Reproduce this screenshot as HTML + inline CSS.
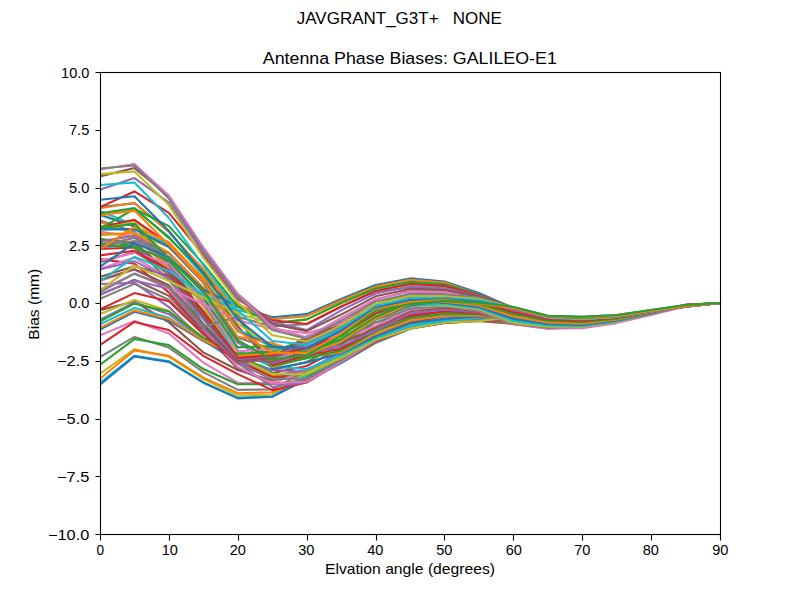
<!DOCTYPE html>
<html lang="en"><head><meta charset="utf-8"><title>JAVGRANT_G3T+ NONE - Antenna Phase Biases: GALILEO-E1</title>
<style>html,body{margin:0;padding:0;background:#fff;}body{width:800px;height:600px;overflow:hidden;}svg{display:block;}text{font-family:"Liberation Sans",sans-serif;fill:#000;}.ln{fill:none;stroke-width:2.083;stroke-linejoin:round;stroke-linecap:square;}</style></head><body>
<svg width="800" height="600" viewBox="0 0 800 600">
<rect x="0" y="0" width="800" height="600" fill="#ffffff"/>
<defs><clipPath id="ax"><rect x="100" y="72" width="620" height="462"/></clipPath></defs>
<g class="ln" clip-path="url(#ax)">
<polyline stroke="#1f77b4" points="100.00,228.39 134.44,223.77 168.89,258.42 203.33,290.99 237.78,340.42 272.22,359.60 306.67,355.21 341.11,335.80 375.56,310.85 410.00,304.16 444.44,300.69 478.89,302.77 513.33,306.93 547.78,315.71 582.22,316.86 616.67,315.01 651.11,309.93 685.56,305.08 720.00,303.00"/>
<polyline stroke="#ff7f0e" points="100.00,241.32 134.44,235.83 168.89,265.65 203.33,300.00 237.78,351.51 272.22,364.50 306.67,358.25 341.11,340.87 375.56,318.68 410.00,310.56 444.44,306.95 478.89,307.29 513.33,310.26 547.78,316.36 582.22,317.19 616.67,315.48 651.11,310.83 685.56,306.37 720.00,303.00"/>
<polyline stroke="#2ca02c" points="100.00,243.17 134.44,243.29 168.89,271.98 203.33,313.43 237.78,357.28 272.22,369.99 306.67,361.99 341.11,344.39 375.56,322.46 410.00,313.72 444.44,309.26 478.89,309.32 513.33,311.95 547.78,316.84 582.22,317.40 616.67,315.56 651.11,310.87 685.56,306.41 720.00,303.00"/>
<polyline stroke="#d62728" points="100.00,248.95 134.44,247.56 168.89,274.85 203.33,302.08 237.78,359.60 272.22,373.06 306.67,366.03 341.11,348.11 375.56,326.42 410.00,316.82 444.44,311.61 478.89,311.40 513.33,313.94 547.78,317.67 582.22,317.97 616.67,315.89 651.11,311.02 685.56,306.41 720.00,303.00"/>
<polyline stroke="#9467bd" points="100.00,247.10 134.44,245.25 168.89,274.54 203.33,315.73 237.78,360.75 272.22,375.59 306.67,370.15 341.11,351.86 375.56,330.38 410.00,319.74 444.44,313.96 478.89,313.44 513.33,316.06 547.78,318.84 582.22,318.91 616.67,316.47 651.11,311.29 685.56,306.35 720.00,303.00"/>
<polyline stroke="#8c564b" points="100.00,239.12 134.44,242.45 168.89,271.83 203.33,313.30 237.78,361.21 272.22,374.61 306.67,374.05 341.11,355.42 375.56,334.11 410.00,322.40 444.44,316.25 478.89,315.37 513.33,318.16 547.78,320.30 582.22,320.17 616.67,317.26 651.11,311.67 685.56,306.22 720.00,303.00"/>
<polyline stroke="#e377c2" points="100.00,231.62 134.44,236.92 168.89,267.84 203.33,304.39 237.78,361.21 272.22,377.03 306.67,377.40 341.11,358.53 375.56,337.38 410.00,324.68 444.44,318.35 478.89,317.11 513.33,320.06 547.78,321.95 582.22,321.62 616.67,318.19 651.11,312.10 685.56,306.03 720.00,303.00"/>
<polyline stroke="#7f7f7f" points="100.00,220.53 134.44,231.62 168.89,263.86 203.33,302.04 237.78,360.75 272.22,376.31 306.67,379.88 341.11,360.96 375.56,339.98 410.00,326.49 444.44,320.17 478.89,318.58 513.33,321.63 547.78,323.65 582.22,323.15 616.67,319.17 651.11,312.56 685.56,305.79 720.00,303.00"/>
<polyline stroke="#bcbd22" points="100.00,214.19 134.44,226.75 168.89,261.18 203.33,306.93 237.78,358.44 272.22,374.61 306.67,381.26 341.11,362.52 375.56,341.76 410.00,327.78 444.44,321.58 478.89,319.73 513.33,322.79 547.78,325.25 582.22,324.59 616.67,320.09 651.11,312.99 685.56,305.53 720.00,303.00"/>
<polyline stroke="#17becf" points="100.00,211.06 134.44,224.92 168.89,260.90 203.33,297.60 237.78,358.44 272.22,373.77 306.67,381.45 341.11,363.14 375.56,342.68 410.00,328.53 444.44,322.51 478.89,320.51 513.33,323.50 547.78,326.63 582.22,325.80 616.67,320.85 651.11,313.34 685.56,305.27 720.00,303.00"/>
<polyline stroke="#1f77b4" points="100.00,214.99 134.44,226.31 168.89,263.80 203.33,313.39 237.78,359.13 272.22,372.78 306.67,380.54 341.11,362.88 375.56,342.80 410.00,328.77 444.44,322.94 478.89,320.93 513.33,323.80 547.78,327.66 582.22,326.65 616.67,321.37 651.11,313.58 685.56,305.06 720.00,303.00"/>
<polyline stroke="#ff7f0e" points="100.00,222.15 134.44,233.70 168.89,270.23 203.33,311.59 237.78,358.90 272.22,374.61 306.67,378.75 341.11,361.91 375.56,342.27 410.00,328.58 444.44,322.90 478.89,321.00 513.33,323.77 547.78,328.25 582.22,327.07 616.67,321.60 651.11,313.68 685.56,304.90 720.00,303.00"/>
<polyline stroke="#2ca02c" points="100.00,238.78 134.44,247.07 168.89,280.03 203.33,323.79 237.78,359.60 272.22,373.11 306.67,376.45 341.11,360.47 375.56,341.31 410.00,328.09 444.44,322.46 478.89,320.79 513.33,323.54 547.78,328.36 582.22,327.02 616.67,321.54 651.11,313.65 685.56,304.84 720.00,303.00"/>
<polyline stroke="#d62728" points="100.00,259.11 134.44,263.73 168.89,292.63 203.33,331.14 237.78,360.75 272.22,376.92 306.67,374.08 341.11,358.88 375.56,340.20 410.00,327.43 444.44,321.75 478.89,320.39 513.33,323.22 547.78,327.98 582.22,326.54 616.67,321.21 651.11,313.50 685.56,304.87 720.00,303.00"/>
<polyline stroke="#9467bd" points="100.00,284.06 134.44,282.67 168.89,307.04 203.33,339.96 237.78,362.60 272.22,369.76 306.67,372.07 341.11,357.44 375.56,339.18 410.00,326.75 444.44,320.94 478.89,319.91 513.33,322.93 547.78,327.15 582.22,325.69 616.67,320.66 651.11,313.24 685.56,304.99 720.00,303.00"/>
<polyline stroke="#8c564b" points="100.00,310.16 134.44,301.50 168.89,322.40 203.33,352.43 237.78,369.99 272.22,380.60 306.67,370.78 341.11,356.41 375.56,338.45 410.00,326.18 444.44,320.18 478.89,319.44 513.33,322.74 547.78,325.97 582.22,324.57 616.67,319.96 651.11,312.92 685.56,305.19 720.00,303.00"/>
<polyline stroke="#e377c2" points="100.00,335.34 134.44,321.02 168.89,333.49 203.33,362.60 237.78,382.69 272.22,383.16 306.67,370.45 341.11,355.96 375.56,338.14 410.00,325.81 444.44,319.62 478.89,319.08 513.33,322.67 547.78,324.52 582.22,323.30 616.67,319.19 651.11,312.58 685.56,305.43 720.00,303.00"/>
<polyline stroke="#7f7f7f" points="100.00,357.05 134.44,336.96 168.89,347.58 203.33,372.07 237.78,389.86 272.22,389.39 306.67,371.14 341.11,356.12 375.56,338.28 410.00,325.71 444.44,319.36 478.89,318.90 513.33,322.69 547.78,322.94 582.22,322.00 616.67,318.44 651.11,312.24 685.56,305.69 720.00,303.00"/>
<polyline stroke="#bcbd22" points="100.00,373.69 134.44,349.20 168.89,356.82 203.33,378.95 237.78,395.63 272.22,394.48 306.67,372.75 341.11,356.84 375.56,338.82 410.00,325.88 444.44,319.43 478.89,318.93 513.33,322.75 547.78,321.35 582.22,320.77 616.67,317.75 651.11,311.95 685.56,305.93 720.00,303.00"/>
<polyline stroke="#17becf" points="100.00,382.93 134.44,355.67 168.89,361.21 203.33,382.40 237.78,397.71 272.22,396.56 306.67,375.00 341.11,357.95 375.56,339.60 410.00,326.27 444.44,319.82 478.89,319.15 513.33,322.74 547.78,319.85 582.22,319.69 616.67,317.17 651.11,311.70 685.56,306.12 720.00,303.00"/>
<polyline stroke="#1f77b4" points="100.00,384.54 134.44,356.36 168.89,361.90 203.33,382.69 237.78,398.40 272.22,396.79 306.67,379.23 341.11,359.23 375.56,340.46 410.00,326.81 444.44,320.45 478.89,319.52 513.33,322.58 547.78,318.54 582.22,318.80 616.67,316.71 651.11,311.51 685.56,306.24 720.00,303.00"/>
<polyline stroke="#ff7f0e" points="100.00,378.77 134.44,350.36 168.89,355.90 203.33,377.61 237.78,393.32 272.22,392.17 306.67,379.85 341.11,360.42 375.56,341.21 410.00,327.40 444.44,321.21 478.89,319.96 513.33,322.20 547.78,317.49 582.22,318.12 616.67,316.37 651.11,311.37 685.56,306.28 720.00,303.00"/>
<polyline stroke="#2ca02c" points="100.00,364.68 134.44,339.04 168.89,345.04 203.33,369.07 237.78,384.31 272.22,384.31 306.67,381.62 341.11,361.32 375.56,341.68 410.00,327.92 444.44,321.94 478.89,320.39 513.33,321.56 547.78,316.77 582.22,317.65 616.67,316.13 651.11,311.27 685.56,306.25 720.00,303.00"/>
<polyline stroke="#d62728" points="100.00,345.04 134.44,321.94 168.89,330.03 203.33,355.90 237.78,374.15 272.22,390.14 306.67,382.50 341.11,361.75 375.56,341.78 410.00,328.28 444.44,322.50 478.89,320.70 513.33,320.69 547.78,316.40 582.22,317.37 616.67,315.97 651.11,311.20 685.56,306.16 720.00,303.00"/>
<polyline stroke="#9467bd" points="100.00,319.63 134.44,302.31 168.89,314.15 203.33,338.86 237.78,362.85 272.22,387.01 306.67,382.30 341.11,361.65 375.56,341.47 410.00,328.38 444.44,322.77 478.89,320.81 513.33,319.68 547.78,316.40 582.22,317.27 616.67,315.88 651.11,311.14 685.56,306.03 720.00,303.00"/>
<polyline stroke="#8c564b" points="100.00,294.92 134.44,279.69 168.89,295.89 203.33,332.31 237.78,368.83 272.22,383.47 306.67,381.00 341.11,361.04 375.56,340.80 410.00,328.17 444.44,322.66 478.89,320.66 513.33,318.65 547.78,316.75 582.22,317.33 616.67,315.85 651.11,311.11 685.56,305.90 720.00,303.00"/>
<polyline stroke="#e377c2" points="100.00,268.89 134.44,257.55 168.89,277.61 203.33,329.10 237.78,366.99 272.22,383.62 306.67,381.54 341.11,361.90 375.56,339.86 410.00,327.63 444.44,322.14 478.89,320.23 513.33,317.76 547.78,317.44 582.22,317.56 616.67,315.89 651.11,311.09 685.56,305.77 720.00,303.00"/>
<polyline stroke="#7f7f7f" points="100.00,245.25 134.44,237.86 168.89,260.79 203.33,326.10 237.78,363.52 272.22,379.23 306.67,378.54 341.11,360.29 375.56,338.75 410.00,326.75 444.44,321.22 478.89,319.52 513.33,317.15 547.78,318.43 582.22,317.96 616.67,316.02 651.11,311.10 685.56,305.68 720.00,303.00"/>
<polyline stroke="#bcbd22" points="100.00,227.93 134.44,221.23 168.89,246.80 203.33,282.45 237.78,356.82 272.22,374.15 306.67,374.15 341.11,357.98 375.56,339.96 410.00,328.41 444.44,322.40 478.89,321.25 513.33,316.95 547.78,319.66 582.22,318.55 616.67,316.27 651.11,311.17 685.56,305.62 720.00,303.00"/>
<polyline stroke="#17becf" points="100.00,213.67 134.44,209.18 168.89,236.74 203.33,275.38 237.78,350.59 272.22,366.99 306.67,369.07 341.11,354.98 375.56,338.11 410.00,326.10 444.44,321.02 478.89,317.51 513.33,317.23 547.78,321.07 582.22,319.32 616.67,316.64 651.11,311.29 685.56,305.61 720.00,303.00"/>
<polyline stroke="#1f77b4" points="100.00,207.09 134.44,203.29 168.89,231.40 203.33,271.82 237.78,316.96 272.22,368.98 306.67,362.37 341.11,353.36 375.56,336.26 410.00,323.33 444.44,318.71 478.89,316.35 513.33,317.97 547.78,322.58 582.22,320.29 616.67,317.17 651.11,311.49 685.56,305.62 720.00,303.00"/>
<polyline stroke="#ff7f0e" points="100.00,208.29 134.44,202.75 168.89,232.31 203.33,269.04 237.78,313.68 272.22,367.36 306.67,357.52 341.11,352.30 375.56,333.95 410.00,320.56 444.44,315.71 478.89,315.71 513.33,319.10 547.78,324.08 582.22,321.41 616.67,317.84 651.11,311.77 685.56,305.66 720.00,303.00"/>
<polyline stroke="#2ca02c" points="100.00,213.37 134.44,208.06 168.89,238.09 203.33,272.05 237.78,317.22 272.22,365.95 306.67,358.34 341.11,350.52 375.56,331.64 410.00,318.01 444.44,313.86 478.89,314.11 513.33,320.46 547.78,325.48 582.22,322.63 616.67,318.61 651.11,312.11 685.56,305.69 720.00,303.00"/>
<polyline stroke="#d62728" points="100.00,227.00 134.44,219.84 168.89,243.86 203.33,278.75 237.78,326.19 272.22,364.58 306.67,355.67 341.11,348.50 375.56,330.03 410.00,315.24 444.44,311.32 478.89,313.13 513.33,321.86 547.78,326.66 582.22,323.86 616.67,319.43 651.11,312.49 685.56,305.71 720.00,303.00"/>
<polyline stroke="#9467bd" points="100.00,241.78 134.44,235.55 168.89,257.12 203.33,293.07 237.78,342.71 272.22,363.09 306.67,353.25 341.11,346.11 375.56,330.28 410.00,313.39 444.44,309.47 478.89,312.27 513.33,323.06 547.78,327.53 582.22,325.01 616.67,320.24 651.11,312.89 685.56,305.70 720.00,303.00"/>
<polyline stroke="#8c564b" points="100.00,262.11 134.44,252.10 168.89,271.44 203.33,312.94 237.78,358.83 272.22,361.39 306.67,350.95 341.11,343.26 375.56,328.17 410.00,311.32 444.44,307.62 478.89,311.50 513.33,323.87 547.78,328.01 582.22,325.95 616.67,320.93 651.11,313.25 685.56,305.66 720.00,303.00"/>
<polyline stroke="#e377c2" points="100.00,280.90 134.44,269.51 168.89,286.18 203.33,326.11 237.78,361.48 272.22,359.46 306.67,348.68 341.11,339.97 375.56,325.60 410.00,309.70 444.44,306.23 478.89,310.76 513.33,324.48 547.78,328.64 582.22,328.18 616.67,323.10 651.11,315.01 685.56,306.47 720.00,303.00"/>
<polyline stroke="#7f7f7f" points="100.00,298.84 134.44,283.83 168.89,299.76 203.33,333.70 237.78,362.39 272.22,358.89 306.67,346.41 341.11,336.34 375.56,322.64 410.00,308.41 444.44,306.55 478.89,310.00 513.33,323.70 547.78,327.63 582.22,326.82 616.67,321.68 651.11,313.71 685.56,305.52 720.00,303.00"/>
<polyline stroke="#bcbd22" points="100.00,314.09 134.44,300.00 168.89,310.70 203.33,337.62 237.78,354.74 272.22,355.22 306.67,344.17 341.11,332.59 375.56,319.46 410.00,306.23 444.44,305.27 478.89,309.14 513.33,322.62 547.78,326.77 582.22,326.62 616.67,321.62 651.11,313.74 685.56,305.45 720.00,303.00"/>
<polyline stroke="#17becf" points="100.00,324.25 134.44,307.85 168.89,317.82 203.33,340.17 237.78,357.98 272.22,355.68 306.67,342.11 341.11,329.03 375.56,316.29 410.00,306.00 444.44,304.01 478.89,308.12 513.33,320.95 547.78,325.56 582.22,325.99 616.67,321.25 651.11,313.63 685.56,305.41 720.00,303.00"/>
<polyline stroke="#1f77b4" points="100.00,329.56 134.44,311.78 168.89,320.56 203.33,341.12 237.78,358.90 272.22,356.45 306.67,340.42 341.11,326.02 375.56,313.44 410.00,304.04 444.44,302.81 478.89,306.92 513.33,318.83 547.78,324.07 582.22,324.96 616.67,320.60 651.11,313.38 685.56,305.41 720.00,303.00"/>
<polyline stroke="#ff7f0e" points="100.00,327.95 134.44,310.39 168.89,318.94 203.33,340.42 237.78,356.13 272.22,353.89 306.67,339.35 341.11,323.90 375.56,311.19 410.00,305.77 444.44,301.73 478.89,305.52 513.33,316.47 547.78,322.45 582.22,323.65 616.67,319.74 651.11,313.02 685.56,305.47 720.00,303.00"/>
<polyline stroke="#2ca02c" points="100.00,321.25 134.44,303.69 168.89,311.54 203.33,337.92 237.78,353.82 272.22,351.65 306.67,339.12 341.11,322.97 375.56,309.79 410.00,303.00 444.44,300.83 478.89,303.96 513.33,314.10 547.78,320.82 582.22,322.19 616.67,318.77 651.11,312.59 685.56,305.58 720.00,303.00"/>
<polyline stroke="#d62728" points="100.00,309.47 134.44,293.07 168.89,301.33 203.33,334.26 237.78,362.44 272.22,358.93 306.67,339.87 341.11,323.39 375.56,309.38 410.00,303.11 444.44,300.18 478.89,302.29 513.33,311.91 547.78,319.32 582.22,320.72 616.67,317.78 651.11,312.14 685.56,305.74 720.00,303.00"/>
<polyline stroke="#9467bd" points="100.00,294.45 134.44,280.59 168.89,288.86 203.33,328.46 237.78,361.91 272.22,358.56 306.67,341.59 341.11,325.13 375.56,309.98 410.00,302.31 444.44,299.82 478.89,300.59 513.33,310.09 547.78,318.05 582.22,319.39 616.67,316.89 651.11,311.71 685.56,305.94 720.00,303.00"/>
<polyline stroke="#8c564b" points="100.00,276.90 134.44,266.27 168.89,275.68 203.33,316.76 237.78,359.75 272.22,357.05 306.67,344.16 341.11,327.98 375.56,311.46 410.00,304.26 444.44,299.75 478.89,298.97 513.33,308.74 547.78,317.10 582.22,318.32 616.67,316.19 651.11,311.36 685.56,306.16 720.00,303.00"/>
<polyline stroke="#e377c2" points="100.00,260.73 134.44,252.87 168.89,263.40 203.33,301.35 237.78,351.24 272.22,349.15 306.67,347.27 341.11,331.58 375.56,311.55 410.00,305.05 444.44,299.94 478.89,297.50 513.33,307.89 547.78,316.49 582.22,317.60 616.67,315.72 651.11,311.11 685.56,306.36 720.00,303.00"/>
<polyline stroke="#7f7f7f" points="100.00,245.94 134.44,241.00 168.89,253.52 203.33,288.49 237.78,337.74 272.22,348.89 306.67,350.50 341.11,335.39 375.56,313.39 410.00,305.73 444.44,300.30 478.89,296.26 513.33,307.50 547.78,316.22 582.22,317.23 616.67,315.51 651.11,310.98 685.56,306.53 720.00,303.00"/>
<polyline stroke="#bcbd22" points="100.00,235.55 134.44,232.93 168.89,247.15 203.33,276.67 237.78,323.28 272.22,348.31 306.67,353.34 341.11,338.84 375.56,315.94 410.00,306.14 444.44,300.69 478.89,295.30 513.33,307.49 547.78,316.23 582.22,317.21 616.67,315.55 651.11,310.97 685.56,306.64 720.00,303.00"/>
<polyline stroke="#17becf" points="100.00,229.54 134.44,229.14 168.89,244.93 203.33,280.84 237.78,329.13 272.22,347.15 306.67,355.28 341.11,341.33 375.56,319.40 410.00,306.09 444.44,300.97 478.89,294.63 513.33,307.72 547.78,316.45 582.22,317.46 616.67,315.77 651.11,311.05 685.56,306.70 720.00,303.00"/>
<polyline stroke="#1f77b4" points="100.00,229.31 134.44,229.08 168.89,246.91 203.33,282.55 237.78,331.34 272.22,345.36 306.67,355.89 341.11,342.40 375.56,319.85 410.00,305.46 444.44,300.97 478.89,294.24 513.33,308.05 547.78,316.78 582.22,317.87 616.67,316.11 651.11,311.18 685.56,306.69 720.00,303.00"/>
<polyline stroke="#ff7f0e" points="100.00,233.93 134.44,233.24 168.89,252.54 203.33,287.61 237.78,336.79 272.22,342.96 306.67,354.89 341.11,341.72 375.56,319.06 410.00,304.17 444.44,300.56 478.89,294.08 513.33,308.37 547.78,317.13 582.22,318.33 616.67,316.47 651.11,311.34 685.56,306.64 720.00,303.00"/>
<polyline stroke="#2ca02c" points="100.00,245.25 134.44,246.64 168.89,260.71 203.33,297.32 237.78,347.40 272.22,346.19 306.67,352.20 341.11,339.21 375.56,316.96 410.00,302.24 444.44,299.66 478.89,294.10 513.33,308.57 547.78,317.41 582.22,318.74 616.67,316.78 651.11,311.48 685.56,306.55 720.00,303.00"/>
<polyline stroke="#d62728" points="100.00,255.41 134.44,250.79 168.89,269.98 203.33,311.21 237.78,357.70 272.22,355.42 306.67,347.96 341.11,335.00 375.56,313.64 410.00,299.73 444.44,298.23 478.89,294.23 513.33,308.63 547.78,317.57 582.22,319.00 616.67,316.97 651.11,311.57 685.56,306.45 720.00,303.00"/>
<polyline stroke="#9467bd" points="100.00,269.50 134.44,261.19 168.89,278.67 203.33,319.45 237.78,360.25 272.22,357.40 306.67,342.52 341.11,329.47 375.56,309.37 410.00,296.80 444.44,296.31 478.89,294.39 513.33,308.54 547.78,317.59 582.22,319.07 616.67,317.01 651.11,311.60 685.56,306.36 720.00,303.00"/>
<polyline stroke="#8c564b" points="100.00,279.90 134.44,269.27 168.89,285.21 203.33,325.26 237.78,361.32 272.22,358.15 306.67,336.41 341.11,323.15 375.56,304.54 410.00,293.65 444.44,294.04 478.89,294.53 513.33,308.36 547.78,317.47 582.22,318.95 616.67,316.91 651.11,311.57 685.56,306.30 720.00,303.00"/>
<polyline stroke="#e377c2" points="100.00,289.83 134.44,273.58 168.89,288.25 203.33,304.39 237.78,320.32 272.22,328.97 306.67,333.26 341.11,323.56 375.56,299.62 410.00,290.51 444.44,291.58 478.89,294.63 513.33,308.14 547.78,317.26 582.22,318.68 616.67,316.69 651.11,311.48 685.56,306.28 720.00,303.00"/>
<polyline stroke="#7f7f7f" points="100.00,292.14 134.44,273.66 168.89,286.96 203.33,326.79 237.78,316.86 272.22,326.44 306.67,324.25 341.11,306.70 375.56,291.22 410.00,287.61 444.44,289.15 478.89,294.66 513.33,307.96 547.78,317.01 582.22,318.33 616.67,316.41 651.11,311.36 685.56,306.31 720.00,303.00"/>
<polyline stroke="#bcbd22" points="100.00,290.06 134.44,265.58 168.89,281.05 203.33,297.46 237.78,313.39 272.22,323.56 306.67,319.63 341.11,303.23 375.56,288.68 410.00,285.17 444.44,286.96 478.89,294.64 513.33,307.88 547.78,316.78 582.22,317.97 616.67,316.13 651.11,311.24 685.56,306.36 720.00,303.00"/>
<polyline stroke="#17becf" points="100.00,281.52 134.44,256.80 168.89,270.91 203.33,294.92 237.78,309.93 272.22,319.17 306.67,316.17 341.11,300.69 375.56,286.83 410.00,283.35 444.44,285.23 478.89,294.60 513.33,307.91 547.78,316.62 582.22,317.70 616.67,315.92 651.11,311.15 685.56,306.44 720.00,303.00"/>
<polyline stroke="#1f77b4" points="100.00,266.73 134.44,242.94 168.89,257.50 203.33,289.60 237.78,306.23 272.22,317.32 306.67,314.09 341.11,299.07 375.56,284.98 410.00,278.40 444.44,281.52 478.89,293.07 513.33,308.07 547.78,316.58 582.22,317.56 616.67,315.82 651.11,311.10 685.56,306.52 720.00,303.00"/>
<polyline stroke="#ff7f0e" points="100.00,249.18 134.44,226.77 168.89,242.25 203.33,279.05 237.78,304.39 272.22,318.94 306.67,315.94 341.11,300.46 375.56,286.60 410.00,279.67 444.44,282.44 478.89,294.61 513.33,308.30 547.78,316.66 582.22,317.60 616.67,315.85 651.11,311.11 685.56,306.59 720.00,303.00"/>
<polyline stroke="#2ca02c" points="100.00,228.85 134.44,208.75 168.89,226.08 203.33,263.96 237.78,306.70 272.22,323.33 306.67,319.40 341.11,303.00 375.56,288.45 410.00,281.75 444.44,284.06 478.89,294.74 513.33,308.53 547.78,316.83 582.22,317.80 616.67,316.00 651.11,311.17 685.56,306.63 720.00,303.00"/>
<polyline stroke="#d62728" points="100.00,207.13 134.44,191.43 168.89,212.91 203.33,254.95 237.78,299.30 272.22,320.32 306.67,324.02 341.11,306.47 375.56,290.99 410.00,284.06 444.44,285.91 478.89,295.01 513.33,308.71 547.78,317.07 582.22,318.12 616.67,316.25 651.11,311.28 685.56,306.62 720.00,303.00"/>
<polyline stroke="#9467bd" points="100.00,189.58 134.44,178.03 168.89,202.51 203.33,252.87 237.78,298.41 272.22,321.81 306.67,330.03 341.11,310.39 375.56,293.53 410.00,286.60 444.44,288.22 478.89,295.45 513.33,308.76 547.78,317.30 582.22,318.48 616.67,316.53 651.11,311.40 685.56,306.58 720.00,303.00"/>
<polyline stroke="#8c564b" points="100.00,176.41 134.44,168.10 168.89,196.26 203.33,247.87 237.78,294.03 272.22,324.04 306.67,331.13 341.11,314.55 375.56,296.30 410.00,288.91 444.44,290.06 478.89,296.06 513.33,308.66 547.78,317.47 582.22,318.80 616.67,316.78 651.11,311.50 685.56,306.51 720.00,303.00"/>
<polyline stroke="#e377c2" points="100.00,169.48 134.44,163.94 168.89,195.58 203.33,247.56 237.78,293.76 272.22,327.25 306.67,337.42 341.11,318.01 375.56,299.07 410.00,291.68 444.44,292.61 478.89,299.30 513.33,308.42 547.78,317.53 582.22,319.00 616.67,316.94 651.11,311.57 685.56,306.42 720.00,303.00"/>
<polyline stroke="#7f7f7f" points="100.00,168.56 134.44,165.56 168.89,198.59 203.33,250.33 237.78,296.30 272.22,330.03 306.67,338.81 341.11,320.56 375.56,301.50 410.00,293.99 444.44,294.45 478.89,297.84 513.33,308.10 547.78,317.45 582.22,319.02 616.67,316.97 651.11,311.57 685.56,306.33 720.00,303.00"/>
<polyline stroke="#bcbd22" points="100.00,174.10 134.44,171.56 168.89,205.06 203.33,257.72 237.78,302.31 272.22,335.34 306.67,341.58 341.11,325.41 375.56,303.92 410.00,296.07 444.44,296.30 478.89,299.00 513.33,307.78 547.78,317.23 582.22,318.85 616.67,316.85 651.11,311.50 685.56,306.26 720.00,303.00"/>
<polyline stroke="#17becf" points="100.00,184.96 134.44,182.42 168.89,217.99 203.33,265.35 237.78,310.62 272.22,340.93 306.67,344.81 341.11,328.41 375.56,306.00 410.00,298.15 444.44,298.15 478.89,300.34 513.33,307.60 547.78,316.92 582.22,318.51 616.67,316.60 651.11,311.37 685.56,306.23 720.00,303.00"/>
<polyline stroke="#1f77b4" points="100.00,199.74 134.44,196.28 168.89,230.93 203.33,273.89 237.78,319.40 272.22,346.89 306.67,348.04 341.11,330.72 375.56,307.85 410.00,300.23 444.44,299.07 478.89,301.85 513.33,307.66 547.78,316.58 582.22,318.07 616.67,316.26 651.11,311.21 685.56,306.22 720.00,303.00"/>
<polyline stroke="#ff7f0e" points="100.00,215.22 134.44,210.60 168.89,244.79 203.33,281.75 237.78,330.72 272.22,352.90 306.67,352.90 341.11,333.72 375.56,309.47 410.00,302.08 444.44,299.77 478.89,303.52 513.33,308.09 547.78,316.31 582.22,317.63 616.67,315.90 651.11,311.04 685.56,306.26 720.00,303.00"/>
<polyline stroke="#2ca02c" points="100.00,228.39 134.44,223.77 168.89,258.42 203.33,290.99 237.78,340.42 272.22,359.60 306.67,355.21 341.11,335.80 375.56,310.85 410.00,304.16 444.44,300.69 478.89,302.77 513.33,306.93 547.78,315.71 582.22,316.86 616.67,315.01 651.11,309.93 685.56,305.08 720.00,303.00"/>
</g>
<path d="M100.5 535V540.5 M169.5 535V540.5 M238.5 535V540.5 M307.5 535V540.5 M376.5 535V540.5 M444.5 535V540.5 M513.5 535V540.5 M582.5 535V540.5 M651.5 535V540.5 M720.5 535V540.5 M100 534.5H95.5 M100 476.5H95.5 M100 419.5H95.5 M100 361.5H95.5 M100 303.5H95.5 M100 245.5H95.5 M100 188.5H95.5 M100 130.5H95.5 M100 72.5H95.5" stroke="#000" stroke-width="1.111" fill="none"/>
<rect x="100.5" y="72.5" width="620" height="462" fill="none" stroke="#000" stroke-width="1.111"/>
<text x="100.3" y="554.8" font-size="14.1" text-anchor="middle" textLength="7.6" lengthAdjust="spacingAndGlyphs">0</text>
<text x="169.8" y="554.8" font-size="14.1" text-anchor="middle" textLength="16.2" lengthAdjust="spacingAndGlyphs">10</text>
<text x="237.8" y="554.8" font-size="14.1" text-anchor="middle" textLength="16.2" lengthAdjust="spacingAndGlyphs">20</text>
<text x="306.3" y="554.8" font-size="14.1" text-anchor="middle" textLength="16.2" lengthAdjust="spacingAndGlyphs">30</text>
<text x="375.3" y="554.8" font-size="14.1" text-anchor="middle" textLength="16.2" lengthAdjust="spacingAndGlyphs">40</text>
<text x="444.3" y="554.8" font-size="14.1" text-anchor="middle" textLength="16.2" lengthAdjust="spacingAndGlyphs">50</text>
<text x="513.8" y="554.8" font-size="14.1" text-anchor="middle" textLength="16.2" lengthAdjust="spacingAndGlyphs">60</text>
<text x="582.3" y="554.8" font-size="14.1" text-anchor="middle" textLength="16.2" lengthAdjust="spacingAndGlyphs">70</text>
<text x="650.8" y="554.8" font-size="14.1" text-anchor="middle" textLength="16.2" lengthAdjust="spacingAndGlyphs">80</text>
<text x="720.3" y="554.8" font-size="14.1" text-anchor="middle" textLength="16.2" lengthAdjust="spacingAndGlyphs">90</text>
<text x="89.3" y="539.8" font-size="14.1" text-anchor="end" textLength="41.3" lengthAdjust="spacingAndGlyphs">−10.0</text>
<text x="89.3" y="481.8" font-size="14.1" text-anchor="end" textLength="32.3" lengthAdjust="spacingAndGlyphs">−7.5</text>
<text x="89.3" y="423.8" font-size="14.1" text-anchor="end" textLength="32.3" lengthAdjust="spacingAndGlyphs">−5.0</text>
<text x="89.3" y="365.8" font-size="14.1" text-anchor="end" textLength="32.3" lengthAdjust="spacingAndGlyphs">−2.5</text>
<text x="89.3" y="307.8" font-size="14.1" text-anchor="end" textLength="20.3" lengthAdjust="spacingAndGlyphs">0.0</text>
<text x="89.3" y="250.8" font-size="14.1" text-anchor="end" textLength="20.3" lengthAdjust="spacingAndGlyphs">2.5</text>
<text x="89.3" y="192.8" font-size="14.1" text-anchor="end" textLength="20.3" lengthAdjust="spacingAndGlyphs">5.0</text>
<text x="89.3" y="134.8" font-size="14.1" text-anchor="end" textLength="20.3" lengthAdjust="spacingAndGlyphs">7.5</text>
<text x="89.3" y="77.8" font-size="14.1" text-anchor="end" textLength="28.2" lengthAdjust="spacingAndGlyphs">10.0</text>
<text x="410.0" y="574" font-size="14.1" text-anchor="middle" textLength="170" lengthAdjust="spacingAndGlyphs">Elvation angle (degrees)</text>
<text x="0" y="0" font-size="14.1" text-anchor="middle" textLength="71" lengthAdjust="spacingAndGlyphs" transform="translate(38.8,304.2) rotate(-90)">Bias (mm)</text>
<text x="409.8" y="63.9" font-size="16.97" text-anchor="middle" textLength="294" lengthAdjust="spacingAndGlyphs">Antenna Phase Biases: GALILEO-E1</text>
<text x="399.3" y="24" font-size="16.97" text-anchor="middle" textLength="205" lengthAdjust="spacingAndGlyphs" xml:space="preserve" style="white-space:pre">JAVGRANT_G3T+   NONE</text>
</svg></body></html>
